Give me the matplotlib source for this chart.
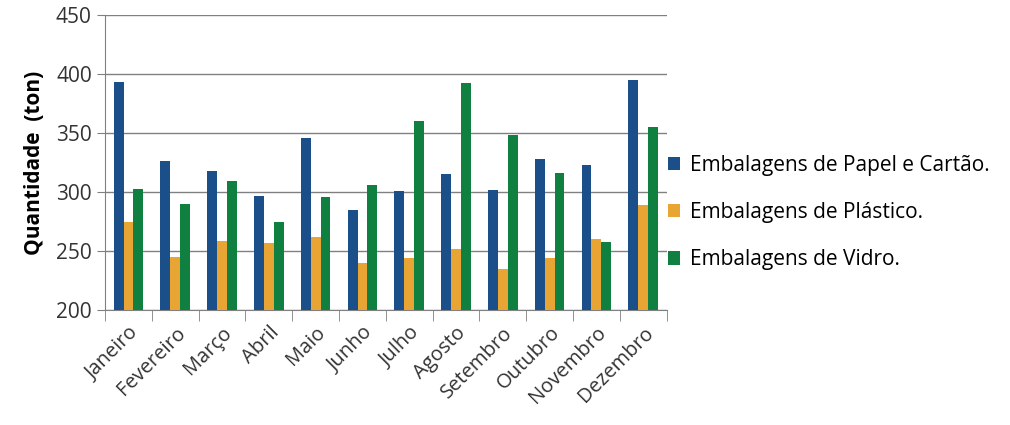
import numpy as np
import matplotlib.pyplot as plt

meses = ["Janeiro", "Fevereiro", "Março", "Abril", "Maio", "Junho",
         "Julho", "Agosto", "Setembro", "Outubro", "Novembro", "Dezembro"]
papel = [393, 326, 318, 297, 346, 285, 301, 315, 302, 328, 323, 395]
plastico = [275, 245, 259, 257, 262, 240, 244, 252, 235, 244, 260, 289]
vidro = [303, 290, 309, 275, 296, 306, 360, 392, 348, 316, 258, 355]

series = [
    (papel, "Embalagens de Papel e Cartão.", "#1B4F8A"),
    (plastico, "Embalagens de Plástico.", "#E8A534"),
    (vidro, "Embalagens de Vidro.", "#108040"),
]

plt.rcParams['font.family'] = ['Open Sans', 'DejaVu Sans']

fig = plt.figure(figsize=(10.1, 4.25), dpi=100)
ax = fig.add_axes([0.104, 0.27, 0.556, 0.695])

x = np.arange(len(meses))
w = 0.21
for i, (vals, nome, cor) in enumerate(series):
    ax.bar(x + (i - 1) * w, np.array(vals) - 200, bottom=200, width=w,
           color=cor, label=nome, zorder=3)

ax.set_xlim(-0.5, len(meses) - 0.5)
ax.set_ylim(200, 450)
ax.set_yticks(range(200, 451, 50))
ax.yaxis.grid(True, color="#808080", linewidth=1.0, zorder=0)
ax.set_axisbelow(True)

for s in ["top", "right"]:
    ax.spines[s].set_visible(False)
for s in ["left", "bottom"]:
    ax.spines[s].set_color("#808080")

# rótulos no centro, marcas entre meses
ax.set_xticks(x)
ax.set_xticklabels(meses, rotation=45, ha="right", rotation_mode="anchor",
                   fontsize=14.5, color="#333333")
ax.tick_params(axis="x", length=0, pad=9)
ax.set_xticks(np.arange(-0.5, len(meses)), minor=True)
ax.tick_params(axis="x", which="minor", length=8, color="#808080")
ax.tick_params(axis="y", length=6, color="#808080", labelsize=15,
               labelcolor="#333333")

ax.set_ylabel("Quantidade  (ton)", fontsize=15, fontweight="bold", labelpad=8)

fig.legend(loc="center left", bbox_to_anchor=(0.653, 0.50), frameon=False,
           fontsize=15, labelspacing=1.26, handlelength=0.6, handleheight=0.6,
           handletextpad=0.45, borderaxespad=0)

fig.savefig("out.png", dpi=100)
